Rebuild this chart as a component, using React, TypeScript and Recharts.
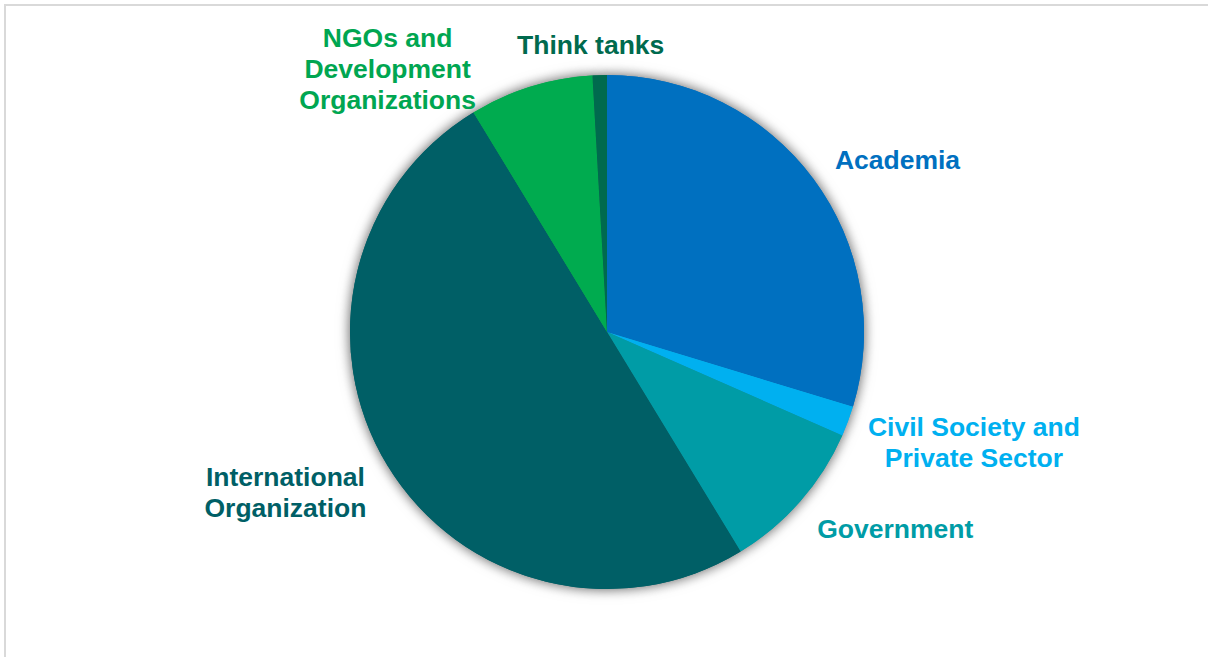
import { Cell, Pie, PieChart } from 'recharts'

const CATEGORIES = [
  'Academia',
  'Civil Society and Private Sector',
  'Government',
  'International Organization',
  'NGOs and Development Organizations',
  'Think tanks',
]
const SHARES = [29.7, 1.9, 9.7, 50.0, 7.8, 0.9]
const LABEL_LINES = [
  ['Academia'],
  ['Civil Society and', 'Private Sector'],
  ['Government'],
  ['International', 'Organization'],
  ['NGOs and', 'Development', 'Organizations'],
  ['Think tanks'],
]

const SLICE_COLORS = ['#0070C0', '#00B0F0', '#009CA6', '#005F66', '#00AB4F', '#006A4E']
const TEXT_COLORS = ['#0070C0', '#00B0F0', '#009CA6', '#005F66', '#00A651', '#006A4E']
// offset of first baseline from the slice's outer edge midpoint
const LABEL_OFFSETS: [number, number][] = [
  [84, -10],
  [126, 15],
  [95, 37],
  [-102, 20],
  [-143, -40],
  [-9, -21],
]

const RAD = Math.PI / 180
const FONT = '"Liberation Sans", Arial, sans-serif'

const data = CATEGORIES.map((name, i) => ({ name, value: SHARES[i] }))

function renderLabel(props: any) {
  const { cx, cy, midAngle, outerRadius, index } = props
  const ex = cx + outerRadius * Math.cos(-midAngle * RAD)
  const ey = cy + outerRadius * Math.sin(-midAngle * RAD)
  const [dx, dy] = LABEL_OFFSETS[index]
  const x = ex + dx
  const y = ey + dy
  return (
    <text
      x={x}
      y={y}
      textAnchor="middle"
      fill={TEXT_COLORS[index]}
      fontFamily={FONT}
      fontWeight="bold"
      fontSize={26.5}
    >
      {LABEL_LINES[index].map((line, j) => (
        <tspan key={j} x={x} y={y + j * 31}>
          {line}
        </tspan>
      ))}
    </text>
  )
}

export default function App() {
  return (
    <div style={{ position: 'absolute', left: 0, top: 0, width: 1208, height: 657, background: '#fff', overflow: 'hidden' }}>
      <style>{'.pie-shadow { filter: drop-shadow(0 0 6px rgba(0,0,0,0.35)); }'}</style>
      <div
        style={{
          position: 'absolute',
          left: 4,
          top: 4,
          width: 1210,
          height: 700,
          border: '2px solid #d9d9d9',
          boxSizing: 'border-box',
        }}
      />
      <div style={{ position: 'absolute', left: 0, top: 0 }}>
        <PieChart width={1208} height={657} margin={{ top: 0, right: 0, bottom: 0, left: 0 }}>
          <Pie
            className="pie-shadow"
            data={data}
            dataKey="value"
            cx={607}
            cy={332}
            outerRadius={257}
            startAngle={90}
            endAngle={-270}
            stroke="none"
            isAnimationActive={false}
            label={false}
            labelLine={false}
          >
            {data.map((d, i) => (
              <Cell key={d.name} fill={SLICE_COLORS[i]} />
            ))}
          </Pie>
          <Pie
            data={data}
            dataKey="value"
            cx={607}
            cy={332}
            outerRadius={257}
            startAngle={90}
            endAngle={-270}
            stroke="none"
            isAnimationActive={false}
            label={renderLabel}
            labelLine={false}
          >
            {data.map((d, i) => (
              <Cell key={d.name} fill={SLICE_COLORS[i]} />
            ))}
          </Pie>
        </PieChart>
      </div>
    </div>
  )
}
